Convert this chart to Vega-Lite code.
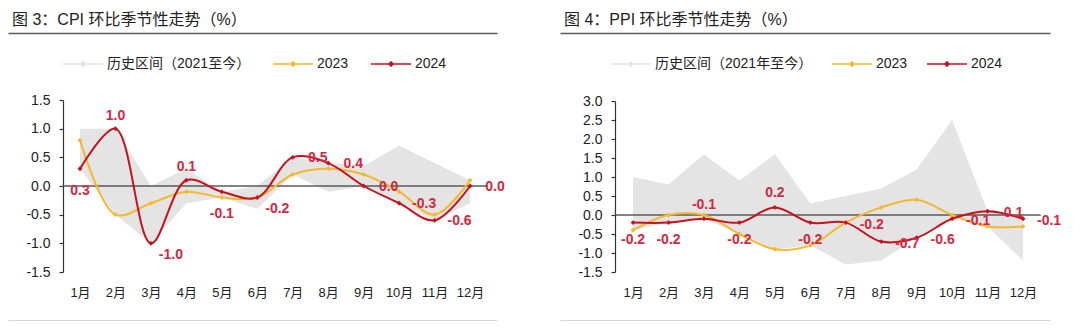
{
  "$schema": "https://vega.github.io/schema/vega-lite/v6.json",
  "background": "white",
  "padding": {"left": 8, "top": 12, "right": 0, "bottom": 0},
  "bounds": "flush",
  "spacing": 63,
  "config": {
    "view": {"stroke": null},
    "font": "Liberation Sans, Noto Sans CJK SC, sans-serif",
    "axis": {"grid": false, "labelFont": "Liberation Sans, Noto Sans CJK SC, sans-serif", "labelColor": "#222"},
    "legend": {"labelFont": "Liberation Sans, Noto Sans CJK SC, sans-serif"}
  },
  "datasets": {
    "cpi_hist": [
      {"month": 1, "hist_min": 0.3, "hist_max": 1.0},
      {"month": 2, "hist_min": -0.5, "hist_max": 1.0},
      {"month": 3, "hist_min": -1.0, "hist_max": 0.0},
      {"month": 4, "hist_min": -0.3, "hist_max": 0.3},
      {"month": 5, "hist_min": -0.2, "hist_max": -0.1},
      {"month": 6, "hist_min": -0.4, "hist_max": 0.0},
      {"month": 7, "hist_min": 0.2, "hist_max": 0.5},
      {"month": 8, "hist_min": -0.1, "hist_max": 0.4},
      {"month": 9, "hist_min": 0.0, "hist_max": 0.35},
      {"month": 10, "hist_min": -0.3, "hist_max": 0.7},
      {"month": 11, "hist_min": -0.6, "hist_max": 0.4},
      {"month": 12, "hist_min": -0.3, "hist_max": 0.1}
    ],
    "cpi_lines": [
      {"month": 1, "series": "2023", "value": 0.8},
      {"month": 2, "series": "2023", "value": -0.5},
      {"month": 3, "series": "2023", "value": -0.3},
      {"month": 4, "series": "2023", "value": -0.1},
      {"month": 5, "series": "2023", "value": -0.2},
      {"month": 6, "series": "2023", "value": -0.2},
      {"month": 7, "series": "2023", "value": 0.2},
      {"month": 8, "series": "2023", "value": 0.3},
      {"month": 9, "series": "2023", "value": 0.2},
      {"month": 10, "series": "2023", "value": -0.1},
      {"month": 11, "series": "2023", "value": -0.5},
      {"month": 12, "series": "2023", "value": 0.1},
      {"month": 1, "series": "2024", "value": 0.3},
      {"month": 2, "series": "2024", "value": 1.0},
      {"month": 3, "series": "2024", "value": -1.0},
      {"month": 4, "series": "2024", "value": 0.1},
      {"month": 5, "series": "2024", "value": -0.1},
      {"month": 6, "series": "2024", "value": -0.2},
      {"month": 7, "series": "2024", "value": 0.5},
      {"month": 8, "series": "2024", "value": 0.4},
      {"month": 9, "series": "2024", "value": 0.0},
      {"month": 10, "series": "2024", "value": -0.3},
      {"month": 11, "series": "2024", "value": -0.6},
      {"month": 12, "series": "2024", "value": 0.0}
    ],
    "ppi_hist": [
      {"month": 1, "hist_min": -0.4, "hist_max": 1.0},
      {"month": 2, "hist_min": -0.2, "hist_max": 0.8},
      {"month": 3, "hist_min": -0.1, "hist_max": 1.6},
      {"month": 4, "hist_min": -0.5, "hist_max": 0.9},
      {"month": 5, "hist_min": -0.9, "hist_max": 1.6},
      {"month": 6, "hist_min": -0.8, "hist_max": 0.3},
      {"month": 7, "hist_min": -1.3, "hist_max": 0.5},
      {"month": 8, "hist_min": -1.2, "hist_max": 0.7},
      {"month": 9, "hist_min": -0.6, "hist_max": 1.2},
      {"month": 10, "hist_min": -0.1, "hist_max": 2.5},
      {"month": 11, "hist_min": -0.3, "hist_max": 0.1},
      {"month": 12, "hist_min": -1.2, "hist_max": -0.1}
    ],
    "ppi_lines": [
      {"month": 1, "series": "2023", "value": -0.4},
      {"month": 2, "series": "2023", "value": 0.0},
      {"month": 3, "series": "2023", "value": 0.0},
      {"month": 4, "series": "2023", "value": -0.5},
      {"month": 5, "series": "2023", "value": -0.9},
      {"month": 6, "series": "2023", "value": -0.8},
      {"month": 7, "series": "2023", "value": -0.2},
      {"month": 8, "series": "2023", "value": 0.2},
      {"month": 9, "series": "2023", "value": 0.4},
      {"month": 10, "series": "2023", "value": 0.0},
      {"month": 11, "series": "2023", "value": -0.3},
      {"month": 12, "series": "2023", "value": -0.3},
      {"month": 1, "series": "2024", "value": -0.2},
      {"month": 2, "series": "2024", "value": -0.2},
      {"month": 3, "series": "2024", "value": -0.1},
      {"month": 4, "series": "2024", "value": -0.2},
      {"month": 5, "series": "2024", "value": 0.2},
      {"month": 6, "series": "2024", "value": -0.2},
      {"month": 7, "series": "2024", "value": -0.2},
      {"month": 8, "series": "2024", "value": -0.7},
      {"month": 9, "series": "2024", "value": -0.6},
      {"month": 10, "series": "2024", "value": -0.1},
      {"month": 11, "series": "2024", "value": 0.1},
      {"month": 12, "series": "2024", "value": -0.1}
    ]
  },
  "resolve": {"scale": {"x": "independent", "y": "independent", "color": "independent"}},
  "hconcat": [
    {
      "width": 489,
      "height": 288,
      "title": {"text": "图 3：CPI 环比季节性走势（%）", "anchor": "start", "dx": 4, "offset": 5, "fontSize": 16, "fontWeight": "normal", "color": "#222"},
      "resolve": {"axis": {"x": "independent"}},
      "layer": [
        {
          "data": {"name": "cpi_hist"},
          "mark": {"type": "area", "opacity": 1},
          "encoding": {
            "x": {"field": "month", "type": "quantitative", "title": null,
              "scale": {"domain": [-1.03, 12.76], "nice": false, "zero": false},
              "axis": {"orient": "bottom", "values": [1,2,3,4,5,6,7,8,9,10,11,12], "labelExpr": "datum.value + '月'", "ticks": false, "domain": true, "domainColor": "#5a5a5a", "domainWidth": 1.5, "labelPadding": -35, "labelFontSize": 13, "labelColor": "#222", "labelOverlap": false, "title": null}},
            "y": {"field": "hist_min", "type": "quantitative", "title": null,
              "scale": {"domain": [-1.5, 1.5], "range": [239, 67], "nice": false, "zero": false},
              "axis": {"values": [-1.5,-1,-0.5,0,0.5,1,1.5], "labelExpr": "replace(format(datum.value, '.1f'), '−', '-')", "offset": -55, "domain": true, "domainColor": "#333", "domainWidth": 1.2, "ticks": true, "tickSize": 4, "tickColor": "#333", "tickWidth": 1.2, "labelPadding": 9, "labelFontSize": 14, "labelColor": "#222", "labelOverlap": false, "title": null}},
            "y2": {"field": "hist_max"},
            "color": {"datum": "历史区间（2021至今）", "type": "nominal", "title": null,
              "scale": {"domain": ["历史区间（2021至今）", "2023", "2024"], "range": ["#e4e4e4", "#f4b82f", "#c5121f"]},
              "legend": {"orient": "none", "legendX": 54, "legendY": 10, "direction": "horizontal", "title": null,
                "symbolType": "M-1,0H1M-0.1,0L0,-0.1L0.1,0L0,0.1Z", "symbolSize": 1600, "symbolStrokeWidth": 1.6,
                "labelFontSize": 14, "labelColor": "#222", "labelOffset": 3, "columnPadding": 18,
                "encode": {"symbols": {"update": {
                  "strokeWidth": {"signal": "datum.value === '2023' || datum.value === '2024' ? 1.6 : 7"},
                  "fill": {"signal": "datum.value === '2023' ? '#f4b82f' : datum.value === '2024' ? '#c5121f' : '#e4e4e4'"},
                  "stroke": {"signal": "datum.value === '2023' ? '#f4b82f' : datum.value === '2024' ? '#c5121f' : '#e4e4e4'"},
                  "opacity": {"value": 1}}}}}}
          }
        },
        {
          "data": {"values": [{}]},
          "mark": {"type": "rule", "color": "#5a5a5a", "strokeWidth": 1.5},
          "encoding": {
            "x": {"datum": 0.5, "type": "quantitative", "title": null, "axis": {"orient": "top", "labels": false, "ticks": false, "domain": true, "domainColor": "#5a5a5a", "domainWidth": 1.5, "title": null}},
            "x2": {"datum": 12.5},
            "y": {"datum": 0, "type": "quantitative", "title": null,
              "axis": {"values": [-1.5,-1,-0.5,0,0.5,1,1.5], "labelExpr": "replace(format(datum.value, '.1f'), '−', '-')", "offset": -55, "domain": true, "domainColor": "#333", "domainWidth": 1.2, "ticks": true, "tickSize": 4, "tickColor": "#333", "tickWidth": 1.2, "labelPadding": 9, "labelFontSize": 14, "labelColor": "#222", "labelOverlap": false, "title": null}}
          }
        },
        {
          "data": {"name": "cpi_lines"},
          "mark": {"type": "line", "interpolate": "catmull-rom", "strokeWidth": 2},
          "encoding": {
            "x": {"field": "month", "type": "quantitative", "title": null, "axis": null},
            "y": {"field": "value", "type": "quantitative", "title": null,
              "axis": {"values": [-1.5,-1,-0.5,0,0.5,1,1.5], "labelExpr": "replace(format(datum.value, '.1f'), '−', '-')", "offset": -55, "domain": true, "domainColor": "#333", "domainWidth": 1.2, "ticks": true, "tickSize": 4, "tickColor": "#333", "tickWidth": 1.2, "labelPadding": 9, "labelFontSize": 14, "labelColor": "#222", "labelOverlap": false, "title": null}},
            "color": {"field": "series", "type": "nominal", "title": null}
          }
        },
        {
          "data": {"name": "cpi_lines"},
          "mark": {"type": "point", "shape": "diamond", "filled": true, "size": 24, "opacity": 1},
          "encoding": {
            "x": {"field": "month", "type": "quantitative", "title": null, "axis": null},
            "y": {"field": "value", "type": "quantitative", "title": null,
              "axis": {"values": [-1.5,-1,-0.5,0,0.5,1,1.5], "labelExpr": "replace(format(datum.value, '.1f'), '−', '-')", "offset": -55, "domain": true, "domainColor": "#333", "domainWidth": 1.2, "ticks": true, "tickSize": 4, "tickColor": "#333", "tickWidth": 1.2, "labelPadding": 9, "labelFontSize": 14, "labelColor": "#222", "labelOverlap": false, "title": null}},
            "color": {"field": "series", "type": "nominal", "title": null}
          }
        },
        {
          "data": {"name": "cpi_lines"},
          "transform": [{"filter": "datum.series == '2024' && indexof([2,4], datum.month) >= 0"}],
          "mark": {"type": "text", "dy": -13, "fontSize": 14, "fontWeight": "bold", "color": "#d3283f", "text": {"expr": "replace(format(datum.value, '.1f'), '−', '-')"}},
          "encoding": {
            "x": {"field": "month", "type": "quantitative", "title": null, "axis": null},
            "y": {"field": "value", "type": "quantitative", "title": null,
              "axis": {"values": [-1.5,-1,-0.5,0,0.5,1,1.5], "labelExpr": "replace(format(datum.value, '.1f'), '−', '-')", "offset": -55, "domain": true, "domainColor": "#333", "domainWidth": 1.2, "ticks": true, "tickSize": 4, "tickColor": "#333", "tickWidth": 1.2, "labelPadding": 9, "labelFontSize": 14, "labelColor": "#222", "labelOverlap": false, "title": null}}
          }
        },
        {
          "data": {"name": "cpi_lines"},
          "transform": [{"filter": "datum.series == '2024' && indexof([1,5], datum.month) >= 0"}],
          "mark": {"type": "text", "dy": 22, "fontSize": 14, "fontWeight": "bold", "color": "#d3283f", "text": {"expr": "replace(format(datum.value, '.1f'), '−', '-')"}},
          "encoding": {
            "x": {"field": "month", "type": "quantitative", "title": null, "axis": null},
            "y": {"field": "value", "type": "quantitative", "title": null,
              "axis": {"values": [-1.5,-1,-0.5,0,0.5,1,1.5], "labelExpr": "replace(format(datum.value, '.1f'), '−', '-')", "offset": -55, "domain": true, "domainColor": "#333", "domainWidth": 1.2, "ticks": true, "tickSize": 4, "tickColor": "#333", "tickWidth": 1.2, "labelPadding": 9, "labelFontSize": 14, "labelColor": "#222", "labelOverlap": false, "title": null}}
          }
        },
        {
          "data": {"name": "cpi_lines"},
          "transform": [{"filter": "datum.series == '2024' && indexof([3,6], datum.month) >= 0"}],
          "mark": {"type": "text", "dx": 20, "dy": 12, "fontSize": 14, "fontWeight": "bold", "color": "#d3283f", "text": {"expr": "replace(format(datum.value, '.1f'), '−', '-')"}},
          "encoding": {
            "x": {"field": "month", "type": "quantitative", "title": null, "axis": null},
            "y": {"field": "value", "type": "quantitative", "title": null,
              "axis": {"values": [-1.5,-1,-0.5,0,0.5,1,1.5], "labelExpr": "replace(format(datum.value, '.1f'), '−', '-')", "offset": -55, "domain": true, "domainColor": "#333", "domainWidth": 1.2, "ticks": true, "tickSize": 4, "tickColor": "#333", "tickWidth": 1.2, "labelPadding": 9, "labelFontSize": 14, "labelColor": "#222", "labelOverlap": false, "title": null}}
          }
        },
        {
          "data": {"name": "cpi_lines"},
          "transform": [{"filter": "datum.series == '2024' && datum.month >= 7"}],
          "mark": {"type": "text", "dx": 25, "dy": 1, "fontSize": 14, "fontWeight": "bold", "color": "#d3283f", "text": {"expr": "replace(format(datum.value, '.1f'), '−', '-')"}},
          "encoding": {
            "x": {"field": "month", "type": "quantitative", "title": null, "axis": null},
            "y": {"field": "value", "type": "quantitative", "title": null,
              "axis": {"values": [-1.5,-1,-0.5,0,0.5,1,1.5], "labelExpr": "replace(format(datum.value, '.1f'), '−', '-')", "offset": -55, "domain": true, "domainColor": "#333", "domainWidth": 1.2, "ticks": true, "tickSize": 4, "tickColor": "#333", "tickWidth": 1.2, "labelPadding": 9, "labelFontSize": 14, "labelColor": "#222", "labelOverlap": false, "title": null}}
          }
        }
      ]
    },
    {
      "width": 490,
      "height": 288,
      "title": {"text": "图 4：PPI 环比季节性走势（%）", "anchor": "start", "dx": 4, "offset": 5, "fontSize": 16, "fontWeight": "normal", "color": "#222"},
      "resolve": {"axis": {"x": "independent"}},
      "layer": [
        {
          "data": {"name": "ppi_hist"},
          "mark": {"type": "area", "opacity": 1},
          "encoding": {
            "x": {"field": "month", "type": "quantitative", "title": null,
              "scale": {"domain": [-1.06, 12.76], "nice": false, "zero": false},
              "axis": {"orient": "bottom", "values": [1,2,3,4,5,6,7,8,9,10,11,12], "labelExpr": "datum.value + '月'", "ticks": false, "domain": true, "domainColor": "#5a5a5a", "domainWidth": 1.5, "labelPadding": -35, "labelFontSize": 13, "labelColor": "#222", "labelOverlap": false, "title": null}},
            "y": {"field": "hist_min", "type": "quantitative", "title": null,
              "scale": {"domain": [-1.5, 3], "range": [239, 68], "nice": false, "zero": false},
              "axis": {"values": [-1.5,-1,-0.5,0,0.5,1,1.5,2,2.5,3], "labelExpr": "replace(format(datum.value, '.1f'), '−', '-')", "offset": -55, "domain": true, "domainColor": "#333", "domainWidth": 1.2, "ticks": true, "tickSize": 4, "tickColor": "#333", "tickWidth": 1.2, "labelPadding": 9, "labelFontSize": 14, "labelColor": "#222", "labelOverlap": false, "title": null}},
            "y2": {"field": "hist_max"},
            "color": {"datum": "历史区间（2021年至今）", "type": "nominal", "title": null,
              "scale": {"domain": ["历史区间（2021年至今）", "2023", "2024"], "range": ["#e4e4e4", "#f4b82f", "#c5121f"]},
              "legend": {"orient": "none", "legendX": 50, "legendY": 10, "direction": "horizontal", "title": null,
                "symbolType": "M-1,0H1M-0.1,0L0,-0.1L0.1,0L0,0.1Z", "symbolSize": 1600, "symbolStrokeWidth": 1.6,
                "labelFontSize": 14, "labelColor": "#222", "labelOffset": 3, "columnPadding": 15,
                "encode": {"symbols": {"update": {
                  "strokeWidth": {"signal": "datum.value === '2023' || datum.value === '2024' ? 1.6 : 7"},
                  "fill": {"signal": "datum.value === '2023' ? '#f4b82f' : datum.value === '2024' ? '#c5121f' : '#e4e4e4'"},
                  "stroke": {"signal": "datum.value === '2023' ? '#f4b82f' : datum.value === '2024' ? '#c5121f' : '#e4e4e4'"},
                  "opacity": {"value": 1}}}}}}
          }
        },
        {
          "data": {"values": [{}]},
          "mark": {"type": "rule", "color": "#5a5a5a", "strokeWidth": 1.5},
          "encoding": {
            "x": {"datum": 0.5, "type": "quantitative", "title": null, "axis": {"orient": "top", "labels": false, "ticks": false, "domain": true, "domainColor": "#5a5a5a", "domainWidth": 1.5, "title": null}},
            "x2": {"datum": 12.5},
            "y": {"datum": 0, "type": "quantitative", "title": null,
              "axis": {"values": [-1.5,-1,-0.5,0,0.5,1,1.5,2,2.5,3], "labelExpr": "replace(format(datum.value, '.1f'), '−', '-')", "offset": -55, "domain": true, "domainColor": "#333", "domainWidth": 1.2, "ticks": true, "tickSize": 4, "tickColor": "#333", "tickWidth": 1.2, "labelPadding": 9, "labelFontSize": 14, "labelColor": "#222", "labelOverlap": false, "title": null}}
          }
        },
        {
          "data": {"name": "ppi_lines"},
          "mark": {"type": "line", "interpolate": "catmull-rom", "strokeWidth": 2},
          "encoding": {
            "x": {"field": "month", "type": "quantitative", "title": null, "axis": null},
            "y": {"field": "value", "type": "quantitative", "title": null,
              "axis": {"values": [-1.5,-1,-0.5,0,0.5,1,1.5,2,2.5,3], "labelExpr": "replace(format(datum.value, '.1f'), '−', '-')", "offset": -55, "domain": true, "domainColor": "#333", "domainWidth": 1.2, "ticks": true, "tickSize": 4, "tickColor": "#333", "tickWidth": 1.2, "labelPadding": 9, "labelFontSize": 14, "labelColor": "#222", "labelOverlap": false, "title": null}},
            "color": {"field": "series", "type": "nominal", "title": null}
          }
        },
        {
          "data": {"name": "ppi_lines"},
          "mark": {"type": "point", "shape": "diamond", "filled": true, "size": 24, "opacity": 1},
          "encoding": {
            "x": {"field": "month", "type": "quantitative", "title": null, "axis": null},
            "y": {"field": "value", "type": "quantitative", "title": null,
              "axis": {"values": [-1.5,-1,-0.5,0,0.5,1,1.5,2,2.5,3], "labelExpr": "replace(format(datum.value, '.1f'), '−', '-')", "offset": -55, "domain": true, "domainColor": "#333", "domainWidth": 1.2, "ticks": true, "tickSize": 4, "tickColor": "#333", "tickWidth": 1.2, "labelPadding": 9, "labelFontSize": 14, "labelColor": "#222", "labelOverlap": false, "title": null}},
            "color": {"field": "series", "type": "nominal", "title": null}
          }
        },
        {
          "data": {"name": "ppi_lines"},
          "transform": [{"filter": "datum.series == '2024' && indexof([3,5], datum.month) >= 0"}],
          "mark": {"type": "text", "dy": -14, "fontSize": 14, "fontWeight": "bold", "color": "#d3283f", "text": {"expr": "replace(format(datum.value, '.1f'), '−', '-')"}},
          "encoding": {
            "x": {"field": "month", "type": "quantitative", "title": null, "axis": null},
            "y": {"field": "value", "type": "quantitative", "title": null,
              "axis": {"values": [-1.5,-1,-0.5,0,0.5,1,1.5,2,2.5,3], "labelExpr": "replace(format(datum.value, '.1f'), '−', '-')", "offset": -55, "domain": true, "domainColor": "#333", "domainWidth": 1.2, "ticks": true, "tickSize": 4, "tickColor": "#333", "tickWidth": 1.2, "labelPadding": 9, "labelFontSize": 14, "labelColor": "#222", "labelOverlap": false, "title": null}}
          }
        },
        {
          "data": {"name": "ppi_lines"},
          "transform": [{"filter": "datum.series == '2024' && indexof([1,2,4,6], datum.month) >= 0"}],
          "mark": {"type": "text", "dy": 17, "fontSize": 14, "fontWeight": "bold", "color": "#d3283f", "text": {"expr": "replace(format(datum.value, '.1f'), '−', '-')"}},
          "encoding": {
            "x": {"field": "month", "type": "quantitative", "title": null, "axis": null},
            "y": {"field": "value", "type": "quantitative", "title": null,
              "axis": {"values": [-1.5,-1,-0.5,0,0.5,1,1.5,2,2.5,3], "labelExpr": "replace(format(datum.value, '.1f'), '−', '-')", "offset": -55, "domain": true, "domainColor": "#333", "domainWidth": 1.2, "ticks": true, "tickSize": 4, "tickColor": "#333", "tickWidth": 1.2, "labelPadding": 9, "labelFontSize": 14, "labelColor": "#222", "labelOverlap": false, "title": null}}
          }
        },
        {
          "data": {"name": "ppi_lines"},
          "transform": [{"filter": "datum.series == '2024' && datum.month >= 7"}],
          "mark": {"type": "text", "dx": 26, "dy": 2, "fontSize": 14, "fontWeight": "bold", "color": "#d3283f", "text": {"expr": "replace(format(datum.value, '.1f'), '−', '-')"}},
          "encoding": {
            "x": {"field": "month", "type": "quantitative", "title": null, "axis": null},
            "y": {"field": "value", "type": "quantitative", "title": null,
              "axis": {"values": [-1.5,-1,-0.5,0,0.5,1,1.5,2,2.5,3], "labelExpr": "replace(format(datum.value, '.1f'), '−', '-')", "offset": -55, "domain": true, "domainColor": "#333", "domainWidth": 1.2, "ticks": true, "tickSize": 4, "tickColor": "#333", "tickWidth": 1.2, "labelPadding": 9, "labelFontSize": 14, "labelColor": "#222", "labelOverlap": false, "title": null}}
          }
        }
      ]
    }
  ]
}
